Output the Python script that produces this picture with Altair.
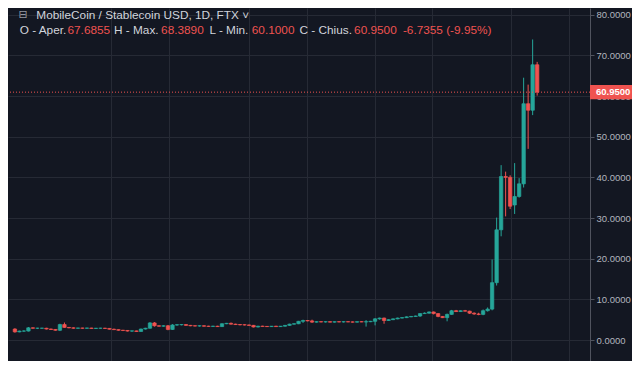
import altair as alt
import pandas as pd

# ---- data ----
opens = [2.7, 2.0, 2.2, 2.2, 3.0, 2.9, 2.9, 2.9, 2.7, 2.6,
         2.4, 3.8, 3.1, 3.0, 2.9, 2.95, 2.9, 2.95, 2.85, 2.9,
         2.9, 2.85, 2.65, 2.55, 2.4, 2.35, 2.2, 2.25, 2.1, 2.7,
         2.9, 4.2, 3.5, 3.4, 3.5, 2.6, 3.7, 3.75, 3.8, 3.6,
         3.5, 3.45, 3.5, 3.4, 3.35, 3.4, 3.3, 4.0, 4.1, 3.9,
         3.8, 3.75, 3.7, 3.6, 3.2, 3.4, 3.35, 3.3, 3.4, 3.3,
         3.4, 3.6, 3.9, 4.0, 4.6, 4.8, 4.7, 4.4, 4.5, 4.45,
         4.5, 4.4, 4.5, 4.45, 4.5, 4.45, 4.4, 4.5, 4.45, 4.5,
         4.6, 5.2, 5.4, 4.8, 5.0, 5.2, 5.4, 5.5, 5.7, 5.8,
         5.9, 6.5, 6.6, 6.9, 6.5, 5.8, 5.5, 6.3, 7.2, 7.0,
         7.2, 7.1, 6.6, 6.4, 6.3, 7.2, 7.6, 14.1, 27.1, 40.2,
         40.0, 33.2, 35.3, 38.4, 58.1, 56.5, 67.6855]
highs = [2.9, 2.3, 2.4, 3.2, 3.1, 3.0, 3.0, 3.0, 2.8, 2.7,
         4.0, 4.3, 3.2, 3.1, 3.0, 3.0, 3.0, 3.0, 2.95, 3.0,
         3.0, 2.9, 2.8, 2.6, 2.5, 2.45, 2.3, 2.3, 2.8, 3.0,
         4.4, 4.4, 3.6, 3.6, 3.7, 3.9, 3.9, 3.9, 3.9, 3.7,
         3.6, 3.6, 3.6, 3.5, 3.5, 3.5, 4.1, 4.2, 4.3, 4.0,
         3.9, 3.85, 3.8, 3.7, 3.5, 3.5, 3.45, 3.45, 3.5, 3.45,
         3.7, 4.0, 4.1, 4.7, 5.0, 4.9, 5.0, 4.6, 4.6, 4.6,
         4.6, 4.55, 4.6, 4.6, 4.6, 4.55, 4.55, 4.6, 4.9, 4.7,
         5.4, 5.5, 5.5, 5.1, 5.3, 5.5, 5.6, 5.8, 5.9, 6.0,
         6.6, 6.8, 7.0, 7.0, 6.6, 5.9, 6.5, 7.4, 7.4, 7.3,
         7.4, 7.2, 6.8, 6.7, 7.5, 8.0, 19.8, 30.1, 43.0, 41.4,
         40.5, 43.5, 39.8, 64.5, 62.8, 73.9, 68.389]
lows = [1.8, 1.9, 2.0, 2.1, 2.8, 2.7, 2.8, 2.6, 2.5, 2.3,
        2.2, 3.0, 2.9, 2.8, 2.8, 2.8, 2.8, 2.8, 2.75, 2.8,
        2.75, 2.6, 2.5, 2.3, 2.2, 2.1, 2.0, 2.0, 2.05, 2.6,
        2.8, 3.3, 3.3, 3.3, 2.4, 2.5, 3.5, 3.6, 3.5, 3.4,
        3.35, 3.3, 3.3, 3.25, 3.2, 3.2, 3.2, 3.9, 3.8, 3.7,
        3.6, 3.6, 3.5, 3.1, 3.1, 3.3, 3.2, 3.2, 3.25, 3.2,
        3.3, 3.5, 3.8, 3.9, 4.2, 4.6, 4.2, 4.3, 4.35, 4.3,
        4.35, 4.3, 4.35, 4.3, 4.4, 4.3, 4.3, 4.4, 3.3, 4.4,
        3.6, 5.0, 4.0, 4.7, 4.9, 5.1, 5.3, 5.4, 5.6, 5.7,
        5.7, 6.4, 6.5, 6.3, 5.6, 5.4, 4.6, 6.2, 6.9, 6.9,
        7.0, 6.4, 6.2, 6.1, 6.1, 7.0, 7.3, 13.4, 25.5, 30.4,
        32.2, 31.0, 35.0, 37.5, 47.0, 55.3, 60.1]
closes = [2.0, 2.2, 2.2, 3.0, 2.9, 2.9, 2.9, 2.7, 2.6, 2.4,
          3.8, 3.1, 3.0, 2.9, 2.95, 2.9, 2.95, 2.85, 2.9, 2.9,
          2.85, 2.65, 2.55, 2.4, 2.35, 2.2, 2.25, 2.1, 2.7, 2.9,
          4.2, 3.5, 3.4, 3.5, 2.6, 3.7, 3.75, 3.8, 3.6, 3.5,
          3.45, 3.5, 3.4, 3.35, 3.4, 3.3, 4.0, 4.1, 3.9, 3.8,
          3.75, 3.7, 3.6, 3.2, 3.4, 3.35, 3.3, 3.4, 3.3, 3.4,
          3.6, 3.9, 4.0, 4.6, 4.8, 4.7, 4.4, 4.5, 4.45, 4.5,
          4.4, 4.5, 4.45, 4.5, 4.45, 4.4, 4.5, 4.45, 4.5, 4.6,
          5.2, 5.4, 4.8, 5.0, 5.2, 5.4, 5.5, 5.7, 5.8, 5.9,
          6.5, 6.6, 6.9, 6.5, 5.8, 5.5, 6.3, 7.2, 7.0, 7.2,
          7.1, 6.6, 6.4, 6.3, 7.2, 7.6, 14.1, 27.1, 40.2, 40.0,
          32.9, 35.3, 38.4, 58.1, 56.5, 67.6855, 60.95]

price_ticks = [0, 10, 20, 30, 40, 50, 60, 70, 80]
date_grid = [21.4, 34.3, 52.1, 64.9, 80.0, 92.6, 110.2, 123.0]

title_text = "MobileCoin / Stablecoin USD, 1D, FTX"
ohlc_labels = ["O - Aper.", "H - Max.", "L - Min.", "C - Chius."]
ohlc_values = ["67.6855", "68.3890", "60.1000", "60.9500"]
change_text = "-6.7355 (-9.95%)"

# ---- styling ----
BG = "#131722"
GRID = "#262a35"
GREEN = "#26a69a"
RED = "#ef5350"
TXT = "#d1d4dc"
AXT = "#b2b5be"
FONT = "Liberation Sans"

W, H = 582, 353

df = pd.DataFrame({"i": list(range(len(opens))), "open": opens, "high": highs,
                   "low": lows, "close": closes})
df["dir"] = ["up" if c >= o else "down" for o, c in zip(opens, closes)]

xs = alt.Scale(domain=[-0.4257, 126.63], nice=False, zero=False)
ys = alt.Scale(domain=[-5.16, 81.64], nice=False, zero=False)
col_scale = alt.Scale(domain=["up", "down"], range=[GREEN, RED])

x_axis = alt.Axis(values=date_grid, grid=True, gridColor=GRID, labels=False,
                  ticks=False, domain=False, title=None)
y_axis = alt.Axis(orient="right", values=price_ticks, format=".4f", grid=True,
                  gridColor=GRID, labelColor=AXT, labelFont=FONT, labelFontSize=9.5,
                  labelPadding=2, tickSize=4, tickColor="#50535e",
                  domainColor="#50535e", title=None)

base = alt.Chart(df)
wicks = base.mark_rule(strokeWidth=1).encode(
    x=alt.X("i:Q", scale=xs, axis=x_axis),
    y=alt.Y("low:Q", scale=ys, axis=y_axis),
    y2="high:Q",
    color=alt.Color("dir:N", scale=col_scale, legend=None),
)
bodies = base.mark_bar(size=3.4, strokeWidth=0.7).encode(
    x=alt.X("i:Q", scale=xs),
    y=alt.Y("open:Q", scale=ys),
    y2="close:Q",
    color=alt.Color("dir:N", scale=col_scale, legend=None),
    stroke=alt.Stroke("dir:N", scale=col_scale, legend=None),
)

last = pd.DataFrame({"p": [closes[-1]]})
last["top"] = last["p"] + 1.75
last["bot"] = last["p"] - 1.75
price_line = alt.Chart(last).mark_rule(color=RED, strokeDash=[1, 2], strokeWidth=1).encode(
    y=alt.Y("p:Q", scale=ys)
)
price_box = alt.Chart(last).mark_rect(color=RED, opacity=1).encode(
    x=alt.value(W), x2=alt.value(W + 42),
    y=alt.Y("top:Q", scale=ys), y2="bot:Q",
)
price_lbl = alt.Chart(last).mark_text(align="left", baseline="middle", color="white",
                                      font=FONT, fontSize=9.5, fontWeight="bold").encode(
    x=alt.value(W + 6), y=alt.Y("p:Q", scale=ys), text=alt.Text("p:Q", format=".4f")
)


def txt(s, x, y, color=TXT, size=11.8, font=FONT, align="left"):
    return alt.Chart(pd.DataFrame({"t": [s]})).mark_text(
        align=align, baseline="middle", color=color, font=font, fontSize=size
    ).encode(x=alt.value(x), y=alt.value(y), text="t:N")


LINE2 = 21.7
header = [
    txt("\u229f", 10.5, 7, color="#9598a1", size=11, font="DejaVu Sans"),
    txt(title_text + " \u02c5", 28.3, 7),
    txt(ohlc_labels[0], 11.7, LINE2),
    txt(ohlc_values[0], 59.5, LINE2, color=RED),
    txt(ohlc_labels[1], 106.0, LINE2),
    txt(ohlc_values[1], 153.1, LINE2, color=RED),
    txt(ohlc_labels[2], 201.5, LINE2),
    txt(ohlc_values[2], 243.8, LINE2, color=RED),
    txt(ohlc_labels[3], 291.5, LINE2),
    txt(ohlc_values[3], 346.1, LINE2, color=RED),
    txt(change_text, 394.9, LINE2, color=RED),
]

chart = alt.layer(wicks, bodies, price_line, price_box, price_lbl, *header).properties(
    width=W, height=H, background=BG,
    padding={"left": 0, "top": 0, "right": 42, "bottom": 0},
    autosize=alt.AutoSizeParams(type="none"),
).configure_view(stroke=None)

chart.save("out.html", embed_options={"renderer": "svg", "actions": False})
